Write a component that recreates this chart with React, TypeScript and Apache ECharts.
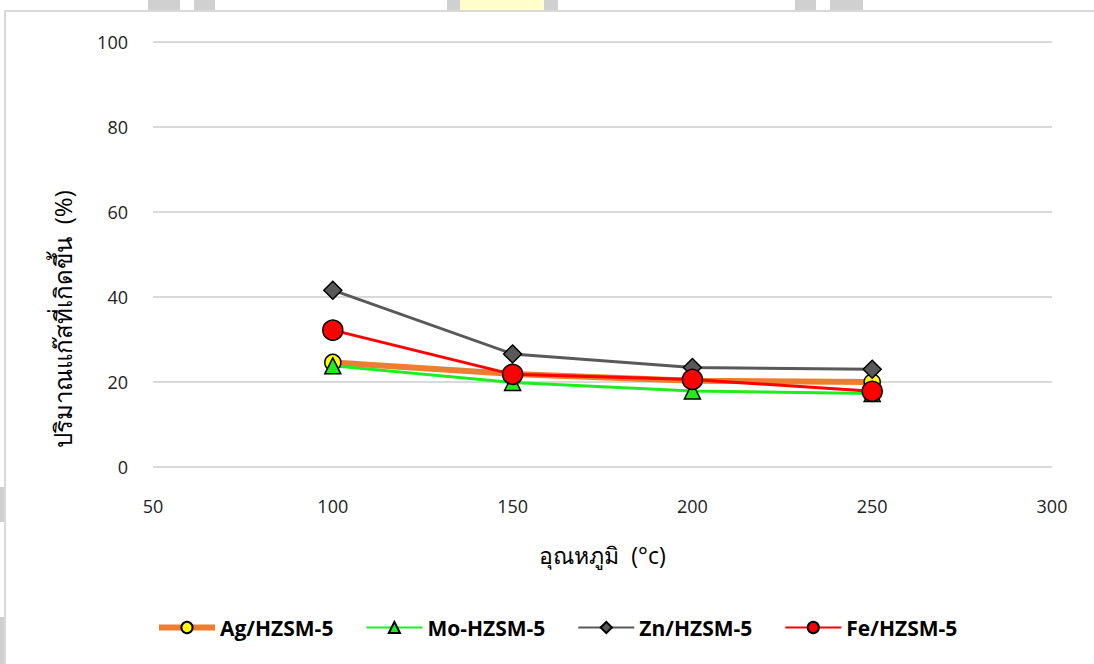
import React, { useEffect, useRef } from "react";
import * as echarts from "echarts";

const temps = [100, 150, 200, 250];
const agValues = [24.6, 21.9, 20.3, 20.0];
const moValues = [23.8, 19.9, 17.9, 17.3];
const znValues = [41.6, 26.6, 23.4, 23.0];
const feValues = [32.2, 21.8, 20.6, 17.8];
const seriesNames = ["Ag/HZSM-5", "Mo-HZSM-5", "Zn/HZSM-5", "Fe/HZSM-5"];
const xTitle = "อุณหภูมิ  (°c)";
const yTitle = "ปริมาณแก๊สที่เกิดขึ้น  (%)";

const pairs = (vals: number[]) => temps.map((t, i) => [t, vals[i]]);

const FONT = "'Open Sans', 'Noto Sans', 'DejaVu Sans', sans-serif";

export default function App() {
  const ref = useRef<HTMLDivElement>(null);
  useEffect(() => {
    if (!ref.current) return;
    const chart = echarts.init(ref.current, undefined, { renderer: "svg" });
    const border = { borderColor: "#000", borderWidth: 1.5 };
    const grey = (x: number, y: number, w: number, h: number, fill = "#d0d0d0") => ({
      type: "rect",
      shape: { x, y, width: w, height: h },
      style: { fill },
      silent: true,
    });
    chart.setOption({
      animation: false,
      backgroundColor: "#fff",
      graphic: [
        { type: "rect", shape: { x: 5, y: 11, width: 1200, height: 800 }, style: { fill: "none", stroke: "#d9d9d9", lineWidth: 2 }, silent: true },
        grey(148, 0, 32, 10),
        grey(194, 0, 21, 10),
        grey(447, 0, 13, 10),
        grey(460, 0, 84, 10, "#ffffcc"),
        grey(544, 0, 14, 10),
        grey(795, 0, 21, 10),
        grey(830, 0, 33, 10),
        grey(0, 487, 4, 35),
        grey(0, 617, 4, 47),
        {
          type: "text",
          x: 62,
          y: 319,
          rotation: Math.PI / 2,
          style: {
            text: yTitle,
            fontSize: 24,
            fontFamily: FONT,
            fill: "#000",
            align: "center",
            verticalAlign: "middle",
          },
        },
      ],
      grid: { left: 153, right: 42, top: 42, bottom: 197 },
      xAxis: {
        type: "value",
        min: 50,
        max: 300,
        interval: 50,
        name: xTitle,
        nameLocation: "middle",
        nameGap: 76,
        nameTextStyle: { fontSize: 23, color: "#000", fontFamily: FONT },
        axisLine: { show: false },
        axisTick: { show: false },
        splitLine: { show: false },
        axisLabel: { fontSize: 18, color: "#222", margin: 30, fontFamily: FONT },
      },
      yAxis: {
        type: "value",
        min: 0,
        max: 100,
        interval: 20,
        axisLine: { show: false },
        axisTick: { show: false },
        splitLine: { lineStyle: { color: "#d9d9d9", width: 2 } },
        axisLabel: { fontSize: 18, color: "#222", margin: 25, fontFamily: FONT },
      },
      legend: {
        top: 617,
        left: 156,
        padding: 0,
        itemGap: 32,
        itemWidth: 56,
        itemHeight: 14,
        textStyle: { fontSize: 21, fontWeight: "bold", color: "#000", fontFamily: FONT },
        data: [
          { name: seriesNames[0], lineStyle: { width: 6 } },
          { name: seriesNames[1] },
          { name: seriesNames[2] },
          { name: seriesNames[3] },
        ],
      },
      series: [
        {
          name: seriesNames[0],
          type: "line",
          data: pairs(agValues),
          symbol: "circle",
          symbolSize: 16,
          lineStyle: { color: "#ED7D31", width: 6 },
          itemStyle: { color: "#FFFF00", ...border },
        },
        {
          name: seriesNames[1],
          type: "line",
          data: pairs(moValues),
          symbol: "triangle",
          symbolSize: 16,
          lineStyle: { color: "#1EEE1E", width: 3 },
          itemStyle: { color: "#1EEE1E", ...border },
        },
        {
          name: seriesNames[2],
          type: "line",
          data: pairs(znValues),
          symbol: "diamond",
          symbolSize: 18,
          lineStyle: { color: "#595959", width: 3 },
          itemStyle: { color: "#595959", ...border },
        },
        {
          name: seriesNames[3],
          type: "line",
          data: pairs(feValues),
          symbol: "circle",
          symbolSize: 20,
          lineStyle: { color: "#FF0000", width: 3 },
          itemStyle: { color: "#FF0000", ...border },
        },
      ],
    });
    return () => chart.dispose();
  }, []);
  return <div ref={ref} style={{ position: "fixed", left: 0, top: 0, width: 1094, height: 664 }} />;
}
